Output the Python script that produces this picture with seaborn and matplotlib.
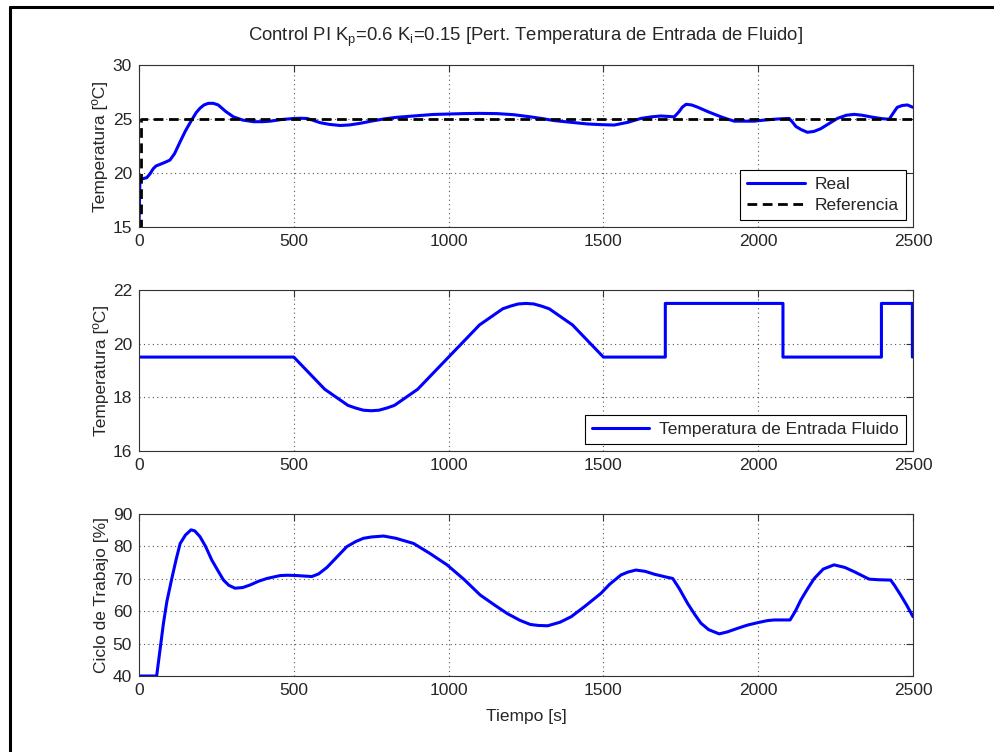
import matplotlib
matplotlib.use("Agg")
import matplotlib.pyplot as plt
import seaborn as sns
import pandas as pd
from matplotlib.lines import Line2D

# --- data ---
t_real = [0, 3, 10, 25, 35, 46, 55, 68, 85, 100, 115, 133, 150, 170, 185, 197, 210, 224,
          240, 256, 280, 305, 335, 370, 400, 424, 460, 500, 520, 542, 560, 585, 615, 650,
          680, 714, 750, 790, 830, 887, 950, 1048, 1100, 1156, 1210, 1264, 1300, 1342,
          1400, 1449, 1490, 1535, 1580, 1622, 1655, 1686, 1729, 1745, 1755, 1767, 1785,
          1804, 1840, 1880, 1900, 1923, 1987, 2020, 2062, 2100, 2111, 2122, 2140, 2159,
          2180, 2202, 2230, 2256, 2285, 2310, 2335, 2363, 2395, 2423, 2435, 2449, 2465,
          2482, 2500]
y_real = [15.0, 19.4, 19.45, 19.57, 19.9, 20.4, 20.65, 20.8, 21.0, 21.2, 21.8, 22.9, 23.9,
          24.9, 25.6, 26.0, 26.3, 26.45, 26.45, 26.3, 25.7, 25.2, 24.9, 24.75, 24.75, 24.8,
          24.95, 25.05, 25.07, 25.05, 24.9, 24.66, 24.5, 24.4, 24.45, 24.6, 24.8, 25.0,
          25.15, 25.28, 25.42, 25.5, 25.52, 25.5, 25.4, 25.2, 25.05, 24.85, 24.68, 24.54,
          24.48, 24.44, 24.7, 25.06, 25.2, 25.28, 25.2, 25.7, 26.1, 26.36, 26.3, 26.1,
          25.65, 25.2, 25.0, 24.8, 24.8, 24.9, 25.0, 25.05, 24.7, 24.3, 24.0, 23.77, 23.85,
          24.1, 24.6, 25.06, 25.35, 25.43, 25.35, 25.2, 25.05, 24.97, 25.5, 26.08, 26.25,
          26.3, 26.08]

t_ref = [0, 8, 8, 2500]
y_ref = [15, 15, 25, 25]

t_fluid = [0, 500, 525, 550, 575, 600, 625, 650, 675, 700, 725, 750, 775, 800, 825, 850,
           875, 900, 925, 950, 975, 1000, 1025, 1050, 1075, 1100, 1125, 1150, 1175, 1200,
           1225, 1250, 1275, 1300, 1325, 1350, 1375, 1400, 1425, 1450, 1475, 1500, 1700,
           1700, 2080, 2080, 2398, 2398, 2498, 2498]
y_fluid = [19.5, 19.5, 19.2, 18.9, 18.6, 18.3, 18.1, 17.9, 17.7, 17.6, 17.52, 17.5, 17.52,
           17.6, 17.7, 17.9, 18.1, 18.3, 18.6, 18.9, 19.2, 19.5, 19.8, 20.1, 20.4, 20.7,
           20.9, 21.1, 21.3, 21.4, 21.48, 21.5, 21.48, 21.4, 21.3, 21.1, 20.9, 20.7, 20.4,
           20.1, 19.8, 19.5, 19.5, 21.5, 21.5, 19.5, 19.5, 21.5, 21.5, 19.5]

t_duty = [0, 57, 79, 90, 106, 120, 133, 150, 168, 180, 197, 215, 235, 255, 273, 290, 310,
          335, 359, 385, 413, 456, 480, 510, 558, 580, 607, 640, 671, 700, 725, 750, 790,
          830, 887, 940, 995, 1050, 1102, 1150, 1189, 1230, 1264, 1290, 1320, 1360, 1396,
          1440, 1492, 1520, 1557, 1580, 1605, 1635, 1665, 1700, 1724, 1745, 1772, 1795,
          1815, 1840, 1874, 1900, 1933, 1965, 2000, 2030, 2052, 2103, 2120, 2138, 2160,
          2181, 2210, 2245, 2280, 2310, 2335, 2358, 2390, 2428, 2440, 2460, 2480, 2500]
y_duty = [40, 40, 56.3, 63.0, 70.1, 76.0, 80.9, 83.5, 85.1, 84.8, 83.0, 80.0, 75.8, 72.5,
          69.6, 68.0, 67.1, 67.3, 68.1, 69.2, 70.1, 71.0, 71.1, 71.0, 70.7, 71.5, 73.5,
          76.8, 79.9, 81.5, 82.5, 82.9, 83.2, 82.5, 80.9, 77.8, 74.3, 69.8, 65.0, 61.8,
          59.3, 57.2, 55.9, 55.6, 55.5, 56.6, 58.3, 61.5, 65.5, 68.3, 71.2, 72.1, 72.7,
          72.3, 71.4, 70.6, 70.1, 67.0, 62.4, 59.0, 56.3, 54.3, 53.0, 53.6, 54.7, 55.7,
          56.5, 57.1, 57.3, 57.3, 60.0, 63.5, 67.0, 70.1, 73.0, 74.3, 73.5, 72.2, 71.0,
          69.9, 69.7, 69.6, 68.0, 65.0, 61.8, 58.3]

x_ticks = [0, 500, 1000, 1500, 2000, 2500]

sns.set_style("white")
plt.rcParams["font.family"] = ["Liberation Sans", "DejaVu Sans"]
plt.rcParams["mathtext.fontset"] = "custom"
plt.rcParams["mathtext.rm"] = "Liberation Sans"
plt.rcParams["mathtext.it"] = "Liberation Sans"

FS = 12.5
fig = plt.figure(figsize=(9.95, 7.52), dpi=100)
W, H = 995, 752


def make_ax(top, bottom):
    return fig.add_axes([139 / W, 1 - bottom / H, (913 - 139) / W, (bottom - top) / H])


ax1 = make_ax(65, 227)
ax2 = make_ax(290, 451)
ax3 = make_ax(514, 676)

df_real = pd.DataFrame({"t": t_real, "y": y_real})
df_ref = pd.DataFrame({"t": t_ref, "y": y_ref})
df_fluid = pd.DataFrame({"t": t_fluid, "y": y_fluid})
df_duty = pd.DataFrame({"t": t_duty, "y": y_duty})

sns.lineplot(data=df_real, x="t", y="y", ax=ax1, color="#0000ff", lw=2.2, sort=False,
             estimator=None, label="Real")
sns.lineplot(data=df_ref, x="t", y="y", ax=ax1, color="black", lw=2, sort=False,
             estimator=None, label="Referencia", linestyle=(0, (3.5, 2)))
sns.lineplot(data=df_fluid, x="t", y="y", ax=ax2, color="#0000ff", lw=2.2, sort=False,
             estimator=None, label="Temperatura de Entrada Fluido")
sns.lineplot(data=df_duty, x="t", y="y", ax=ax3, color="#0000ff", lw=2.2, sort=False,
             estimator=None, legend=False)

ax1.set_ylim(15, 30)
ax1.set_yticks([15, 20, 25, 30])
ax2.set_ylim(16, 22)
ax2.set_yticks([16, 18, 20, 22])
ax3.set_ylim(40, 90)
ax3.set_yticks([40, 50, 60, 70, 80, 90])

for ax in (ax1, ax2, ax3):
    ax.set_xlim(0, 2500)
    ax.set_xticks(x_ticks)
    ax.grid(True, linestyle=(0, (1, 3)), color="#555555", lw=0.8)
    ax.tick_params(direction="in", length=5, width=0.8, color="#333333",
                   top=True, right=True, labelsize=FS, pad=5)
    for s in ax.spines.values():
        s.set_color("#333333")
        s.set_linewidth(0.8)
        s.set_visible(True)
    ax.set_xlabel("")
    ax.set_ylabel("Temperatura [ºC]", fontsize=FS, labelpad=3)

ax3.set_ylabel("Ciclo de Trabajo [%]", fontsize=FS, labelpad=3)
ax3.set_xlabel("Tiempo [s]", fontsize=FS, labelpad=8)

ax1.set_title(r"Control PI K$_\mathrm{p}$=0.6 K$_\mathrm{i}$=0.15 [Pert. Temperatura de Entrada de Fluido]",
              fontsize=13.3, pad=17)

leg_kw = dict(loc="lower right", fancybox=False, framealpha=1, edgecolor="black",
              fontsize=FS, handlelength=3.3, borderpad=0.4, labelspacing=0.35,
              borderaxespad=0.4, handletextpad=0.6)
l1 = ax1.legend(**leg_kw)
l2 = ax2.legend(**leg_kw)
for lg in (l1, l2):
    lg.get_frame().set_linewidth(0.8)

# figure border (left and top edges as in the reference)
fig.add_artist(Line2D([9.5 / W, 9.5 / W], [0, 1 - 7 / H], color="black", lw=2.2,
                      transform=fig.transFigure))
fig.add_artist(Line2D([9.5 / W, 1], [1 - 7 / H, 1 - 7 / H], color="black", lw=2.2,
                      transform=fig.transFigure))

fig.savefig("out.png", dpi=100)
